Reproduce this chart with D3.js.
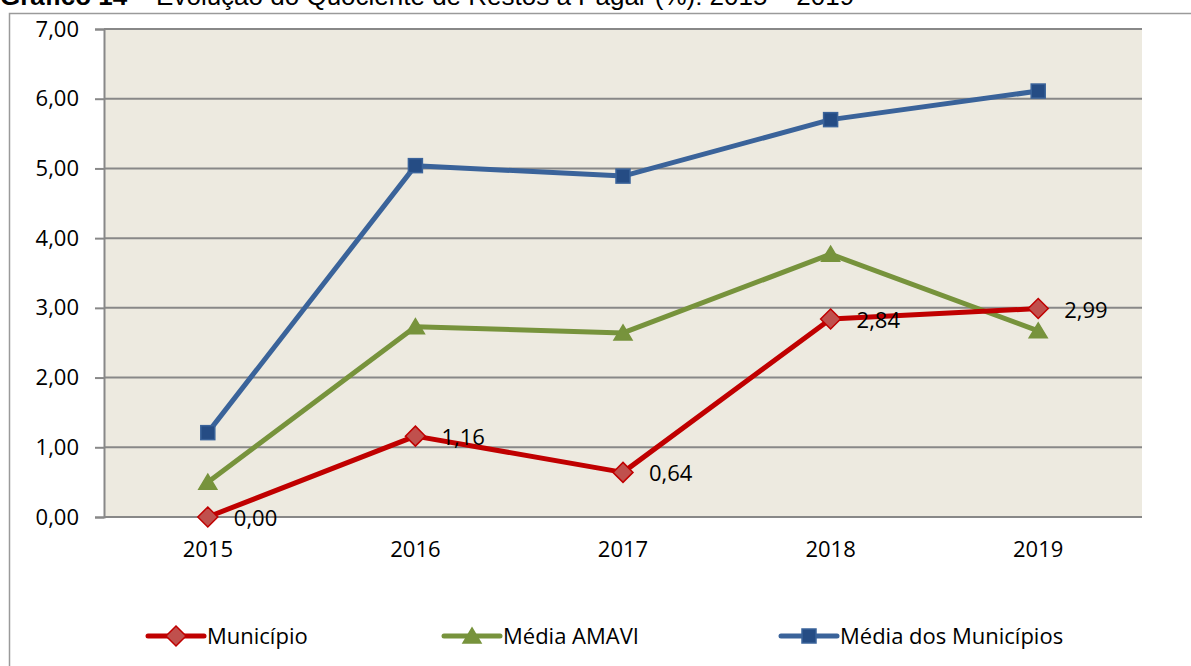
<!DOCTYPE html>
<html>
<head>
<meta charset="utf-8">
<script src="https://cdn.jsdelivr.net/npm/d3@7"></script>
<style>
  body { margin: 0; background: #fff; }
  svg { display: block; }
</style>
</head>
<body>
<script>
// chart data
const years = ["2015", "2016", "2017", "2018", "2019"];
const municipio = [0.00, 1.16, 0.64, 2.84, 2.99];
const mediaAmavi = [0.50, 2.73, 2.64, 3.77, 2.67];
const mediaMunicipios = [1.21, 5.04, 4.89, 5.70, 6.11];
const yTicks = [0, 1, 2, 3, 4, 5, 6, 7];

const series = [
  {name: "Município", values: municipio, line: "#C00000", fill: "#C0504D", stroke: "#C00000", shape: "diamond", labels: true},
  {name: "Média AMAVI", values: mediaAmavi, line: "#77933C", fill: "#77933C", stroke: "#77933C", shape: "triangle", labels: false},
  {name: "Média dos Municípios", values: mediaMunicipios, line: "#3A639A", fill: "#254C84", stroke: "#3A639A", shape: "square", labels: false}
];

const W = 1191, H = 666;
const plot = {left: 104, right: 1142, top: 29, bottom: 517};
const font = "'Open Sans', 'Noto Sans', sans-serif";
const fs = "22px";

const svg = d3.select("body").append("svg")
  .attr("width", W)
  .attr("height", H);

// title, mostly cut off at the top (as in the source image)
const title = svg.append("text")
  .attr("x", 0).attr("y", 5)
  .style("font-family", "'Liberation Sans', Arial, sans-serif")
  .style("font-size", "26px");
title.append("tspan").style("font-weight", "bold").text("Gráfico 14");
title.append("tspan").text(" – Evolução do Quociente de Restos a Pagar (%): 2015 – 2019");

// outer frame
svg.append("rect")
  .attr("x", 9.5).attr("y", 13.5)
  .attr("width", 1200).attr("height", 700)
  .attr("fill", "none").attr("stroke", "#9a9a9a").attr("stroke-width", 1.5);

const x = d3.scaleBand().domain(years).range([plot.left, plot.right]);
const y = d3.scaleLinear().domain([0, 7]).range([plot.bottom, plot.top]);

// plot background
svg.append("rect")
  .attr("x", plot.left).attr("y", plot.top)
  .attr("width", plot.right - plot.left).attr("height", plot.bottom - plot.top)
  .attr("fill", "#EDEAE0");

// y axis
const yAxis = svg.append("g")
  .attr("transform", `translate(${plot.left},0)`)
  .call(d3.axisLeft(y).tickValues(yTicks).tickSize(9).tickPadding(16)
    .tickFormat(d => d3.format(".2f")(d).replace(".", ",")));
yAxis.select(".domain").attr("stroke", "#888").attr("stroke-width", 2);
yAxis.selectAll(".tick line").attr("stroke", "#888").attr("stroke-width", 2);
yAxis.selectAll(".tick text")
  .style("font-family", font).style("font-size", fs).attr("fill", "#000");

// gridlines
svg.append("g").selectAll("line")
  .data(yTicks)
  .join("line")
  .attr("x1", plot.left).attr("x2", plot.right)
  .attr("y1", d => y(d)).attr("y2", d => y(d))
  .attr("stroke", "#888").attr("stroke-width", 2);

// x axis
const xAxis = svg.append("g")
  .attr("transform", `translate(0,${plot.bottom})`)
  .call(d3.axisBottom(x).tickSize(0).tickPadding(24));
xAxis.select(".domain").remove();
xAxis.selectAll(".tick text")
  .style("font-family", font).style("font-size", fs).attr("fill", "#000");

const cx = i => x(years[i]) + x.bandwidth() / 2;

function marker(g, shape) {
  if (shape === "diamond") return g.append("path").attr("d", "M0,-10L10,0L0,10L-10,0Z");
  if (shape === "triangle") return g.append("path").attr("d", "M0,-8L9,7L-9,7Z");
  return g.append("rect").attr("x", -7).attr("y", -7).attr("width", 14).attr("height", 14);
}

const line = d3.line().x((d, i) => cx(i)).y(d => y(d));

// draw back to front: blue, green, red
[...series].reverse().forEach(s => {
  svg.append("path")
    .datum(s.values)
    .attr("d", line)
    .attr("fill", "none")
    .attr("stroke", s.line)
    .attr("stroke-width", 5)
    .attr("stroke-linejoin", "round");
  s.values.forEach((v, i) => {
    const g = svg.append("g").attr("transform", `translate(${cx(i)},${y(v)})`);
    marker(g, s.shape).attr("fill", s.fill).attr("stroke", s.stroke).attr("stroke-width", 1.5);
  });
});

// data labels for Município
series.filter(s => s.labels).forEach(s => {
  svg.append("g").selectAll("text")
    .data(s.values)
    .join("text")
    .attr("x", (d, i) => cx(i) + 26)
    .attr("y", d => y(d) + 9)
    .style("font-family", font).style("font-size", fs)
    .text(d => d3.format(".2f")(d).replace(".", ","));
});

// legend
const legendX = [148, 444, 781];
const legendY = 636;
series.forEach((s, i) => {
  const g = svg.append("g").attr("transform", `translate(${legendX[i]},${legendY})`);
  g.append("line").attr("x1", 0).attr("x2", 56)
    .attr("stroke", s.line).attr("stroke-width", 5).attr("stroke-linecap", "round");
  marker(g.append("g").attr("transform", "translate(28,0)"), s.shape)
    .attr("fill", s.fill).attr("stroke", s.stroke).attr("stroke-width", 1.5);
  g.append("text").attr("x", 59).attr("y", 8)
    .style("font-family", font).style("font-size", fs)
    .text(s.name);
});
</script>
</body>
</html>
